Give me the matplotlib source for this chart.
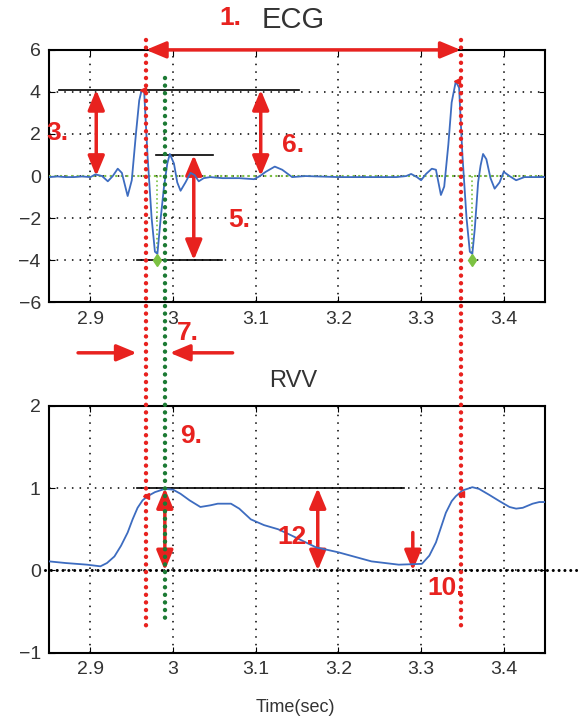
import matplotlib
matplotlib.use('Agg')

import matplotlib.pyplot as plt
from matplotlib.lines import Line2D
from matplotlib.transforms import blended_transform_factory

plt.rcParams['font.family'] = ['Liberation Sans', 'DejaVu Sans']

# ECG trace (sec, mV)
ecg_t = [2.850, 2.860, 2.870, 2.880, 2.890, 2.900, 2.906, 2.914, 2.921, 2.927,
         2.933, 2.938, 2.945, 2.950, 2.955, 2.959, 2.962, 2.965, 2.969, 2.974,
         2.978, 2.981, 2.985, 2.989, 2.993, 2.996, 3.001, 3.005, 3.009, 3.015,
         3.021, 3.026, 3.031, 3.037, 3.045, 3.060, 3.080, 3.098, 3.105, 3.112,
         3.123, 3.132, 3.144, 3.160, 3.200, 3.240, 3.270, 3.282, 3.288, 3.295,
         3.300, 3.306, 3.313, 3.318, 3.324, 3.328, 3.333, 3.337, 3.342, 3.346,
         3.350, 3.355, 3.359, 3.362, 3.365, 3.369, 3.372, 3.375, 3.379, 3.384,
         3.389, 3.395, 3.400, 3.407, 3.415, 3.425, 3.450]
ecg_v = [-0.05, -0.02, -0.05, -0.05, -0.02, -0.05, 0.08, 0.0, -0.25, 0.0,
         0.35, 0.15, -0.95, -0.2, 2.0, 3.6, 4.1, 4.0, 1.0, -2.0,
         -3.6, -3.7, -2.0, -0.5, 0.6, 1.05, 0.6, -0.3, -0.7, -0.3,
         0.15, 0.05, -0.25, -0.1, -0.05, -0.1, -0.1, -0.15, 0.0, 0.2,
         0.45, 0.3, -0.05, 0.0, -0.05, -0.05, -0.05, 0.0, 0.1, -0.05,
         -0.2, 0.1, 0.35, 0.3, -0.9, -0.5, 1.5, 3.5, 4.5, 4.2,
         1.0, -2.0, -3.6, -3.7, -2.5, -0.3, 0.5, 1.05, 0.8, -0.1,
         -0.6, -0.3, 0.2, 0.0, -0.2, -0.05, -0.05]

# RVV trace
rvv_t = [2.850, 2.870, 2.896, 2.912, 2.920, 2.929, 2.937, 2.945, 2.951, 2.957,
         2.963, 2.969, 2.978, 2.990, 3.000, 3.009, 3.020, 3.033, 3.045, 3.054,
         3.070, 3.080, 3.094, 3.110, 3.127, 3.140, 3.173, 3.200, 3.240, 3.273,
         3.301, 3.310, 3.318, 3.325, 3.330, 3.337, 3.342, 3.350, 3.362, 3.370,
         3.382, 3.395, 3.407, 3.415, 3.423, 3.435, 3.443, 3.450]
rvv_v = [0.11, 0.09, 0.07, 0.05, 0.09, 0.17, 0.30, 0.46, 0.62, 0.76,
         0.85, 0.90, 0.95, 0.99, 0.98, 0.93, 0.85, 0.77, 0.79, 0.81,
         0.81, 0.75, 0.62, 0.55, 0.50, 0.44, 0.28, 0.22, 0.11, 0.07,
         0.08, 0.18, 0.34, 0.55, 0.70, 0.84, 0.90, 0.97, 1.01, 0.99,
         0.92, 0.84, 0.77, 0.75, 0.76, 0.81, 0.83, 0.83]

# annotation landmarks
r_onset = [2.967, 3.348]
r_peak = [(2.963, 4.1), (3.343, 4.5)]
s_min = [(2.980, -4.0), (3.362, -4.0)]
rvv_mark = [(2.967, 0.9), (3.348, 0.93)]
green_x = 2.990

red = '#e8221f'
blue = '#3d6cc0'
lgreen = '#7cc242'
dgreen = '#1c7a34'

fig = plt.figure(figsize=(5.78, 7.23), dpi=100)
ax1 = fig.add_axes([0.085, 0.582, 0.858, 0.349])
ax2 = fig.add_axes([0.085, 0.097, 0.858, 0.342])

for ax in (ax1, ax2):
    ax.set_xlim(2.85, 3.45)
    ax.set_xticks([2.9, 3.0, 3.1, 3.2, 3.3, 3.4])
    ax.set_xticklabels(['2.9', '3', '3.1', '3.2', '3.3', '3.4'])
    ax.grid(True, color='black', linestyle=(0, (1, 4)), linewidth=1.1)
    ax.tick_params(direction='in', top=True, right=True, length=4,
                   labelsize=14, labelcolor='#333333', pad=6)
    for s in ax.spines.values():
        s.set_linewidth(1.5)

# ECG panel
ax1.set_ylim(-6, 6)
ax1.set_yticks([-6, -4, -2, 0, 2, 4, 6])
ax1.axhline(0, color=lgreen, linestyle=':', linewidth=1.5, zorder=3)
ax1.plot(ecg_t, ecg_v, color=blue, linewidth=1.3, zorder=4)
for x, y in s_min:
    ax1.plot([x, x], [0, y], color=lgreen, linestyle=':', linewidth=1.2, zorder=3)
    ax1.plot(x, y, marker='d', color=lgreen, markersize=6, zorder=5)
for x, y in r_peak:
    ax1.plot(x, y, marker='<', color=red, markersize=4, zorder=5)
ax1.plot([2.862, 3.152], [4.1, 4.1], color='black', linewidth=1.2, clip_on=False)
ax1.plot([2.979, 3.048], [1.0, 1.0], color='black', linewidth=1.2)
ax1.plot([2.956, 3.059], [-4.0, -4.0], color='black', linewidth=1.2)

arrow = dict(arrowstyle='<|-|>,head_length=0.6,head_width=0.25', color=red,
             lw=2.5, mutation_scale=20, shrinkA=0, shrinkB=0)
one_head = dict(arrowstyle='-|>,head_length=0.6,head_width=0.25', color=red,
                lw=2.5, mutation_scale=20, shrinkA=0, shrinkB=0)
ax1.annotate('', xy=(2.907, 0), xytext=(2.907, 4.1), arrowprops=arrow)
ax1.annotate('', xy=(3.106, 0), xytext=(3.106, 4.1), arrowprops=arrow)
ax1.annotate('', xy=(3.025, -4.0), xytext=(3.025, 1.0), arrowprops=arrow)

# RVV panel
ax2.set_ylim(-1, 2)
ax2.set_yticks([-1, 0, 1, 2])
ax2.plot(rvv_t, rvv_v, color=blue, linewidth=1.3, zorder=4)
for x, y in rvv_mark:
    ax2.plot(x, y, marker='<', color=red, markersize=4, zorder=5)
ax2.plot([2.956, 3.279], [1.0, 1.0], color='black', linewidth=1.2)
ax2.plot([2.845, 3.491], [0, 0], color='black', linewidth=2.2,
         linestyle=(0, (0.01, 1.9)), dash_capstyle='round', clip_on=False, zorder=5)
ax2.annotate('', xy=(green_x, 0), xytext=(green_x, 1.0), arrowprops=arrow)
ax2.annotate('', xy=(3.175, 0), xytext=(3.175, 1.0), arrowprops=arrow)
ax2.annotate('', xy=(3.290, 0), xytext=(3.290, 0.46), arrowprops=one_head)

# lines and arrows that span both panels
tr = blended_transform_factory(ax1.transData, fig.transFigure)
for x in r_onset:
    fig.add_artist(Line2D([x, x], [0.945, 0.131], transform=tr, color=red,
                          linewidth=3.2, linestyle=(0, (0.01, 1.7)),
                          dash_capstyle='round', zorder=10))
fig.add_artist(Line2D([green_x, green_x], [0.892, 0.138], transform=tr,
                      color=dgreen, linewidth=3.2, linestyle=(0, (0.01, 1.7)),
                      dash_capstyle='round', zorder=10))

ax1.annotate('', xy=(r_onset[0], 0.931), xytext=(r_onset[1], 0.931),
             xycoords=tr, textcoords=tr, annotation_clip=False, arrowprops=arrow)
ax1.annotate('', xy=(2.956, 0.512), xytext=(2.885, 0.512), xycoords=tr,
             textcoords=tr, annotation_clip=False, arrowprops=one_head)
ax1.annotate('', xy=(2.996, 0.512), xytext=(3.072, 0.512), xycoords=tr,
             textcoords=tr, annotation_clip=False, arrowprops=one_head)

# titles and labels
fig.text(293 / 578, 1 - 20 / 723, 'ECG', ha='center', va='center',
         fontsize=21, color='#333333')
fig.text(293 / 578, 1 - 381 / 723, 'RVV', ha='center', va='center',
         fontsize=17, color='#333333')
fig.text(295 / 578, 1 - 708 / 723, 'Time(sec)', ha='center', va='center',
         fontsize=13, color='#333333')

labels = [('1.', 230, 18), ('3.', 57, 133), ('6.', 293, 145), ('5.', 239, 220),
          ('7.', 188, 333), ('9.', 191, 436), ('12.', 296, 537), ('10.', 446, 588)]
for txt, px, py in labels:
    fig.text(px / 578, 1 - py / 723, txt, ha='center', va='center',
             fontsize=19, fontweight='bold', color=red, zorder=12)

plt.savefig('out.png', dpi=100)
